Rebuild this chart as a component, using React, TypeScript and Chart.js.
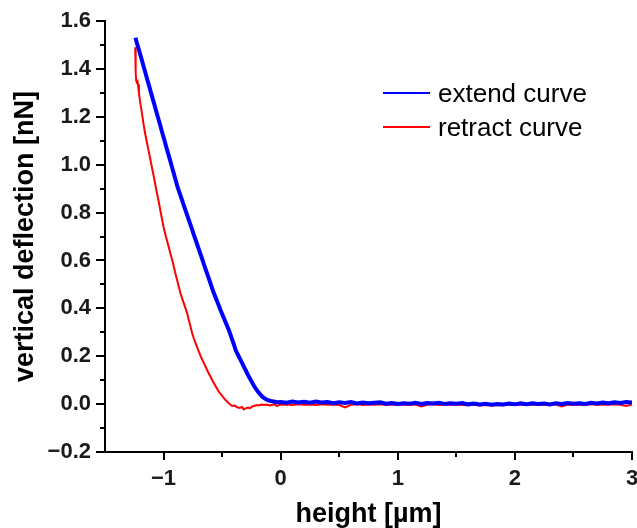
import React, { useEffect, useRef } from 'react';
import { Chart, registerables } from 'chart.js';

Chart.register(...registerables);

// ---- data ----
const extendX = [
  -1.24, -1.228, -1.215, -1.2, -1.185, -1.17, -1.155, -1.14, -1.125, -1.11,
  -1.095, -1.08, -1.065, -1.05, -1.035, -1.02, -1.005, -0.99, -0.975, -0.96,
  -0.945, -0.93, -0.915, -0.9, -0.88, -0.86, -0.84, -0.82, -0.8, -0.78,
  -0.76, -0.74, -0.72, -0.7, -0.68, -0.66, -0.64, -0.62, -0.6, -0.575,
  -0.555, -0.535, -0.513, -0.49, -0.465, -0.442, -0.42, -0.4, -0.385, -0.365,
  -0.345, -0.328, -0.31, -0.29, -0.271, -0.25, -0.232, -0.214, -0.195, -0.175,
  -0.157, -0.135, -0.11, -0.085, -0.06, -0.03, 0.0,
  0.05, 0.1, 0.15, 0.2, 0.25, 0.3, 0.35, 0.4, 0.45, 0.5,
  0.55, 0.6, 0.65, 0.7, 0.75, 0.8, 0.85, 0.9, 0.95, 1.0,
  1.05, 1.1, 1.15, 1.2, 1.25, 1.3, 1.35, 1.4, 1.45, 1.5,
  1.55, 1.6, 1.65, 1.7, 1.75, 1.8, 1.85, 1.9, 1.95, 2.0,
  2.05, 2.1, 2.15, 2.2, 2.25, 2.3, 2.35, 2.4, 2.45, 2.5,
  2.55, 2.6, 2.65, 2.7, 2.75, 2.8, 2.85, 2.9, 2.95, 3.0,
];
const extendY = [
  1.53, 1.508, 1.487, 1.462, 1.436, 1.409, 1.384, 1.357, 1.332, 1.305,
  1.279, 1.254, 1.227, 1.201, 1.176, 1.149, 1.123, 1.098, 1.071, 1.045,
  1.02, 0.993, 0.967, 0.941, 0.906, 0.878, 0.849, 0.82, 0.791, 0.763,
  0.735, 0.705, 0.677, 0.648, 0.62, 0.591, 0.562, 0.534, 0.505, 0.469,
  0.444, 0.42, 0.392, 0.365, 0.336, 0.309, 0.278, 0.25, 0.227, 0.206,
  0.187, 0.17, 0.152, 0.133, 0.114, 0.096, 0.08, 0.066, 0.053, 0.041,
  0.031, 0.023, 0.017, 0.013, 0.011, 0.008, 0.009,
  0.006, 0.011, 0.007, 0.01, 0.006, 0.011, 0.007, 0.009, 0.004, 0.008,
  0.005, 0.009, 0.003, 0.007, 0.004, 0.006, 0.008, 0.002, 0.005, 0.001,
  0.004, 0.002, 0.006, 0.001, 0.005, 0.003, 0.006, 0.001, 0.004, 0.002,
  0.005, -0.001, 0.002, -0.002, 0.001, -0.003, 0.0, -0.002, 0.002, -0.001,
  0.003, 0.0, 0.004, 0.001, 0.003, -0.001, 0.004, 0.001, 0.005, 0.002,
  0.004, 0.001, 0.006, 0.003, 0.007, 0.004, 0.008, 0.005, 0.009, 0.007,
];
const retractX = [
  -1.242, -1.24, -1.238, -1.236, -1.234, -1.228, -1.222, -1.218, -1.21, -1.2,
  -1.19, -1.18, -1.168, -1.157, -1.145, -1.13, -1.115, -1.1, -1.08, -1.06,
  -1.04, -1.02, -1.0, -0.98, -0.96, -0.94, -0.92, -0.9, -0.88, -0.855,
  -0.835, -0.815, -0.798, -0.785, -0.77, -0.755, -0.74, -0.72, -0.698, -0.68,
  -0.66, -0.641, -0.62, -0.6, -0.584, -0.565, -0.545, -0.527, -0.505, -0.48,
  -0.456, -0.435, -0.415, -0.395, -0.37, -0.35, -0.33, -0.315, -0.299, -0.28,
  -0.26, -0.245, -0.228, -0.205, -0.185, -0.165, -0.142, -0.12, -0.095, -0.07,
  -0.05, -0.03, -0.01,
  0.05, 0.1, 0.15, 0.2, 0.25, 0.3, 0.35, 0.4, 0.45, 0.5,
  0.55, 0.6, 0.65, 0.7, 0.75, 0.8, 0.85, 0.9, 0.95, 1.0,
  1.05, 1.1, 1.15, 1.2, 1.25, 1.3, 1.35, 1.4, 1.45, 1.5,
  1.55, 1.6, 1.65, 1.7, 1.75, 1.8, 1.85, 1.9, 1.95, 2.0,
  2.05, 2.1, 2.15, 2.2, 2.25, 2.3, 2.35, 2.4, 2.45, 2.5,
  2.55, 2.6, 2.65, 2.7, 2.75, 2.8, 2.85, 2.9, 2.95, 3.0,
];
const retractY = [
  1.49, 1.46, 1.42, 1.385, 1.352, 1.346, 1.349, 1.335, 1.3, 1.262,
  1.232, 1.2, 1.16, 1.13, 1.1, 1.064, 1.028, 0.99, 0.942, 0.89,
  0.842, 0.79, 0.74, 0.7, 0.664, 0.626, 0.59, 0.548, 0.51, 0.462,
  0.432, 0.404, 0.379, 0.352, 0.324, 0.295, 0.272, 0.246, 0.218, 0.196,
  0.176, 0.156, 0.134, 0.115, 0.1, 0.083, 0.066, 0.051, 0.038, 0.022,
  0.01, 0.0, -0.008, -0.006, -0.013, -0.016, -0.012, -0.022, -0.018, -0.014,
  -0.017, -0.01, -0.008, -0.004, -0.006, -0.002, -0.004, -0.002, -0.006, -0.003,
  -0.001, -0.008, -0.003,
  -0.002, -0.004, -0.001, -0.003, -0.002, -0.004, -0.001, -0.003, -0.002, -0.004,
  -0.014, -0.003, -0.001, -0.004, -0.002, -0.003, -0.001, -0.004, -0.002, -0.003,
  -0.002, -0.004, -0.002, -0.01, -0.003, -0.001, -0.004, -0.002, -0.003, -0.002,
  -0.004, -0.005, -0.003, -0.006, -0.004, -0.006, -0.004, -0.005, -0.003, -0.004,
  -0.002, -0.004, -0.002, -0.004, -0.003, -0.005, -0.002, -0.01, -0.002, -0.003,
  -0.002, -0.004, -0.001, -0.003, -0.002, -0.003, -0.001, -0.003, -0.008, -0.002,
];

const seriesLabels = ['extend curve', 'retract curve'];
const seriesColors = ['#0000ff', '#ff0000'];

const xMajorTicks = [-1, 0, 1, 2, 3];
const xTickLabels = ['\u22121', '0', '1', '2', '3'];
const xMinorTicks = [-0.5, 0.5, 1.5, 2.5];
const yMajorTicks = [-0.2, 0, 0.2, 0.4, 0.6, 0.8, 1.0, 1.2, 1.4, 1.6];
const yTickLabels = ['\u22120.2', '0.0', '0.2', '0.4', '0.6', '0.8', '1.0', '1.2', '1.4', '1.6'];
const yMinorTicks = [-0.1, 0.1, 0.3, 0.5, 0.7, 0.9, 1.1, 1.3, 1.5];

const FONT = "'Liberation Sans', Arial, sans-serif";

const axisPlugin = {
  id: 'axisDecor',
  afterDraw(chart: any) {
    const ctx = chart.ctx;
    const { left, right, top, bottom } = chart.chartArea;
    const xs = chart.scales.x;
    const ys = chart.scales.y;
    ctx.save();
    ctx.strokeStyle = '#000';
    ctx.lineWidth = 2;
    ctx.lineCap = 'butt';
    ctx.beginPath();
    ctx.moveTo(left, top - 1);
    ctx.lineTo(left, bottom + 1);
    ctx.moveTo(left - 1, bottom);
    ctx.lineTo(right + 1, bottom);
    const xMark = (v: number, len: number) => {
      const px = Math.round(xs.getPixelForValue(v));
      ctx.moveTo(px, bottom);
      ctx.lineTo(px, bottom + len);
    };
    const yMark = (v: number, len: number) => {
      const py = Math.round(ys.getPixelForValue(v));
      ctx.moveTo(left, py);
      ctx.lineTo(left - len, py);
    };
    xMajorTicks.forEach((v) => xMark(v, 8));
    xMinorTicks.forEach((v) => xMark(v, 5));
    yMajorTicks.forEach((v) => yMark(v, 9));
    yMinorTicks.forEach((v) => yMark(v, 5));
    ctx.stroke();

    // legend
    const rows = [93, 127];
    chart.data.datasets.forEach((ds: any, i: number) => {
      const y = rows[i];
      ctx.beginPath();
      ctx.strokeStyle = ds.borderColor;
      ctx.lineWidth = 2;
      ctx.moveTo(383, y);
      ctx.lineTo(430, y);
      ctx.stroke();
      ctx.fillStyle = '#000';
      ctx.font = `26px ${FONT}`;
      ctx.textAlign = 'left';
      ctx.textBaseline = 'middle';
      ctx.fillText(ds.label, 438, y + 2);
    });
    ctx.restore();
  },
};

export default function App() {
  const ref = useRef<HTMLCanvasElement>(null);
  useEffect(() => {
    if (!ref.current) return;
    const chart = new Chart(ref.current, {
      type: 'line',
      data: {
        datasets: [
          {
            label: seriesLabels[0],
            data: extendX.map((x, i) => ({ x, y: extendY[i] })),
            borderColor: seriesColors[0],
            backgroundColor: seriesColors[0],
            borderWidth: 4,
            pointRadius: 0,
            tension: 0,
            fill: false,
          },
          {
            label: seriesLabels[1],
            data: retractX.map((x, i) => ({ x, y: retractY[i] })),
            borderColor: seriesColors[1],
            backgroundColor: seriesColors[1],
            borderWidth: 2,
            pointRadius: 0,
            tension: 0,
            fill: false,
          },
        ],
      },
      options: {
        responsive: false,
        animation: false,
        layout: { padding: { top: 21, right: 5, bottom: 0, left: 0 } },
        plugins: { legend: { display: false }, tooltip: { enabled: false } },
        scales: {
          x: {
            type: 'linear',
            min: -1.5,
            max: 3,
            grid: { display: false, drawTicks: false },
            border: { display: false },
            afterBuildTicks: (s: any) => {
              s.ticks = xMajorTicks.map((v) => ({ value: v }));
            },
            afterFit: (s: any) => {
              s.height = 76;
              s.paddingLeft = 0;
              s.paddingRight = 0;
            },
            ticks: {
              autoSkip: false,
              maxRotation: 0,
              padding: 14,
              color: '#1a1a1a',
              font: { family: FONT, size: 22, weight: 'bold' },
              callback: (_v: any, i: number) => xTickLabels[i],
            },
            title: {
              display: true,
              text: 'height [µm]',
              color: '#000',
              font: { family: FONT, size: 27, weight: 'bold' },
              padding: { top: 0, bottom: -3 },
            },
          },
          y: {
            type: 'linear',
            min: -0.2,
            max: 1.6,
            grid: { display: false, drawTicks: false },
            border: { display: false },
            afterBuildTicks: (s: any) => {
              s.ticks = yMajorTicks.map((v) => ({ value: v }));
            },
            afterFit: (s: any) => {
              s.width = 105;
              s.paddingTop = 0;
              s.paddingBottom = 0;
            },
            ticks: {
              autoSkip: false,
              padding: 14,
              color: '#1a1a1a',
              font: { family: FONT, size: 22, weight: 'bold' },
              callback: (_v: any, i: number) => yTickLabels[i],
            },
            title: {
              display: true,
              text: 'vertical deflection [nN]',
              color: '#000',
              font: { family: FONT, size: 27, weight: 'bold' },
              padding: { top: 9, bottom: 0 },
            },
          },
        },
      } as any,
      plugins: [axisPlugin],
    });
    return () => chart.destroy();
  }, []);
  return (
    <div style={{ position: 'absolute', left: 0, top: 0, width: 637, height: 528, background: '#fff' }}>
      <canvas ref={ref} width={637} height={528} style={{ display: 'block', width: 637, height: 528 }} />
    </div>
  );
}
